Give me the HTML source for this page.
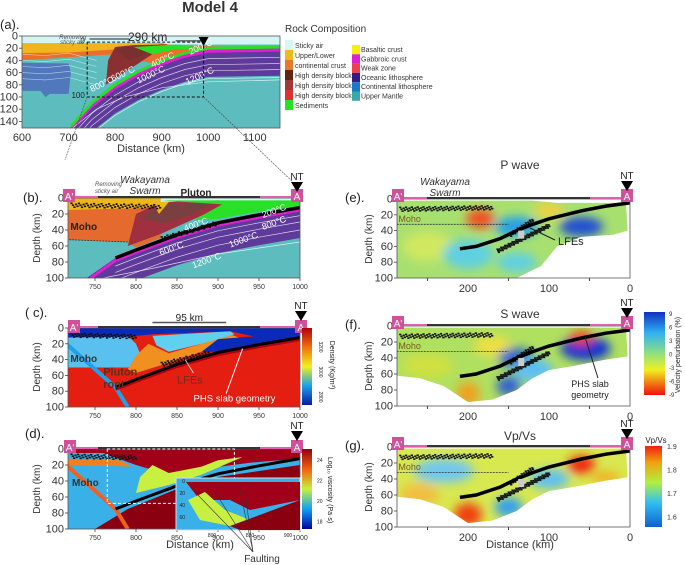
<!DOCTYPE html>
<html><head><meta charset="utf-8"><style>
html,body{margin:0;padding:0;background:#fff}
svg{display:block;font-family:"Liberation Sans",Arial,sans-serif}
</style></head><body>
<svg id="fig" xmlns="http://www.w3.org/2000/svg" width="685" height="565" viewBox="0 0 685 565">
<defs>
<filter id="blur" x="-50%" y="-50%" width="200%" height="200%"><feGaussianBlur stdDeviation="5"/></filter>
<filter id="blur2" x="-50%" y="-50%" width="200%" height="200%"><feGaussianBlur stdDeviation="2.5"/></filter>
<linearGradient id="gDen" x1="0" y1="1" x2="0" y2="0"><stop offset="0" stop-color="#0a1aa0"/><stop offset="0.25" stop-color="#1aa0e8"/><stop offset="0.5" stop-color="#f0f020"/><stop offset="0.75" stop-color="#f07010"/><stop offset="1" stop-color="#b00010"/></linearGradient>
<linearGradient id="gVis" x1="0" y1="1" x2="0" y2="0"><stop offset="0" stop-color="#0000a0"/><stop offset="0.25" stop-color="#10a0f0"/><stop offset="0.5" stop-color="#c8f040"/><stop offset="0.75" stop-color="#f06010"/><stop offset="1" stop-color="#900010"/></linearGradient>
<linearGradient id="gVel" x1="0" y1="0" x2="0" y2="1"><stop offset="0" stop-color="#1030c0"/><stop offset="0.25" stop-color="#30b0f0"/><stop offset="0.5" stop-color="#90e080"/><stop offset="0.7" stop-color="#f0f020"/><stop offset="0.85" stop-color="#f08010"/><stop offset="1" stop-color="#f01010"/></linearGradient>
<linearGradient id="gVpvs" x1="0" y1="1" x2="0" y2="0"><stop offset="0" stop-color="#1060d0"/><stop offset="0.3" stop-color="#30c0f0"/><stop offset="0.55" stop-color="#b0f040"/><stop offset="0.8" stop-color="#f0a010"/><stop offset="1" stop-color="#f02010"/></linearGradient>
</defs>
</svg>
<script>
// ---- data arrays ----
const aXTicks = [600,700,800,900,1000,1100];
const aYTicks = [0,20,40,60,80,100,120,140];
const bXTicks = [750,800,850,900,950,1000];
const bYTicks = [0,20,40,60,80,100];
const eXTicks = [200,100,0];
const slabModel = [[775,75],[800,65],[850,46],[900,31],[950,21],[1000,12]];
const slabA = [[705,150],[750,112],[800,82],[850,60],[900,43],[950,30],[1000,22],[1155,20]];
const slabTomo = [[210,63],[190,60],[160,50],[140,40],[120,32],[100,25],[60,15],[30,9],[0,5]];
const mohoTomo = [[288,32],[150,32]];
const legendLeft = [["Sticky air","#d8f6f8"],["Upper/Lower","#f2b820"],["continental crust","#e77a2a"],["High density block","#5a2a10"],["High density block","#a03838"],["High density block","#e03030"],["Sediments","#28e028"]];
const legendRight = [["Basaltic crust","#f8f000"],["Gabbroic crust","#e020d0"],["Weak zone","#f04050"],["Oceanic lithosphere","#3a1a80"],["Continental lithosphere","#1a78c8"],["Upper Mantle","#3aa8a8"]];
const densTicks = [3200,3000,2800];
const viscTicks = [24,22,20,18];
const velTicks = [9,6,3,0,-3,-6,-9];
const vpvsTicks = [1.9,1.8,1.7,1.6];

const NS="http://www.w3.org/2000/svg";
const svg=document.getElementById('fig');
function mk(tag,attrs,parent,name,inter){const e=document.createElementNS(NS,tag);for(const k in attrs)e.setAttribute(k,attrs[k]);(parent||svg).appendChild(e);


return e;}
function txt(x,y,s,attrs,parent,name){const t=mk('text',Object.assign({x:x,y:y,'font-size':9,fill:'#222'},attrs||{}),parent,name||'label');t.textContent=s;return t;}

const P={
 a:{x:d=>22+(d-600)*0.4655,y:k=>36+k*0.61,l:22,r:280,t:36,b:128},
 b:{x:d=>300-(1000-d)*0.82,y:k=>198+k*0.8,l:68,r:300,t:198,b:278},
 c:{x:d=>300-(1000-d)*0.82,y:k=>328+k*0.79,l:68,r:300,t:328,b:407},
 d:{x:d=>300-(1000-d)*0.82,y:k=>449+k*0.8,l:68,r:300,t:449,b:529},
 e:{x:d=>630-d*0.81,y:k=>199+k*0.79,l:397,r:630,t:199,b:278},
 f:{x:d=>630-d*0.81,y:k=>326+k*0.8,l:397,r:630,t:326,b:406},
 g:{x:d=>630-d*0.81,y:k=>447+k*0.8,l:397,r:630,t:447,b:527}
};
function pts(p,arr){return arr.map(q=>p.x(q[0]).toFixed(1)+','+p.y(q[1]).toFixed(1)).join(' ');}
function poly(p,arr,fill,g,name,extra){return mk('polygon',Object.assign({points:pts(p,arr),fill:fill},extra||{}),g,name);}
function line(p,arr,stroke,w,g,name,extra){return mk('polyline',Object.assign({points:pts(p,arr),fill:'none',stroke:stroke,'stroke-width':w},extra||{}),g,name);}
function offset(arr,dk){return arr.map(q=>[q[0],q[1]+dk]);}
function blob(p,d,k,rx,ry,fill,g,name){return mk('ellipse',{cx:p.x(d),cy:p.y(k),rx:rx,ry:ry,fill:fill},g,name);}
function panel(key,name){const p=P[key];const cp=mk('clipPath',{id:'clip'+key},svg.querySelector('defs'),'clip');mk('rect',{x:p.l,y:p.t,width:p.r-p.l,height:p.b-p.t},cp,'clip-rect');return mk('g',{'clip-path':'url(#clip'+key+')'},svg,name);}
function frame(p,g){mk('rect',{x:p.l,y:p.t,width:p.r-p.l,height:p.b-p.t,fill:'none',stroke:'#555','stroke-width':0.8},g,'plot-frame');}
function yAxis(p,ticks,g,fs){ticks.forEach(v=>{const y=p.y(v);mk('line',{x1:p.l-3,x2:p.l,y1:y,y2:y,stroke:'#444','stroke-width':0.8},g,'y-tick');txt(p.l-4,y+3.5,String(v),{'text-anchor':'end','font-size':fs||11,fill:'#333'},g,'y-tick-label');});}
function xAxis(p,ticks,g,fs){ticks.forEach(v=>{const x=p.x(v);mk('line',{x1:x,x2:x,y1:p.b,y2:p.b+3,stroke:'#444','stroke-width':0.8},g,'x-tick');txt(x,p.b+(fs>8?14:11),String(v),{'text-anchor':'middle','font-size':fs||7,fill:'#333'},g,'x-tick-label');});}
function ylabel(x,y,s,g){txt(x,y,s,{'font-size':10,transform:'rotate(-90 '+x+' '+y+')','text-anchor':'middle',fill:'#333'},g,'y-axis-title');}
function marker(x,y,s,g){mk('rect',{x:x-6,y:y-7,width:12,height:13,fill:'#d0509a'},g,'profile-end-marker');txt(x,y+4,s,{'font-size':10,fill:'#fff','text-anchor':'middle'},g,'profile-end-label');}
function topbar(p,g){mk('line',{x1:p.l,x2:p.r,y1:p.t-1,y2:p.t-1,stroke:'#e060b0','stroke-width':2},g,'surface-line');mk('line',{x1:p.l+30,x2:p.r-40,y1:p.t-1,y2:p.t-1,stroke:'#333','stroke-width':2},g,'surface-line-dark');}
function nt(x,y,g){txt(x,y,'NT',{'font-size':10,'text-anchor':'middle',fill:'#222'},g,'nt-label');mk('polygon',{points:(x-6)+','+(y+2)+' '+(x+6)+','+(y+2)+' '+x+','+(y+12)},g,'nt-triangle');}
function dots(p,d0,d1,k0,k1,n,g){
 for(let i=0;i<n;i++){const f=i/n;const d=d0+(d1-d0)*f;const k=k0+(k1-k0)*f+((i*7)%5-2)*1.2;mk('rect',{x:p.x(d),y:p.y(k),width:2.2,height:1.6,fill:'#111'},g,'seismicity-dot');}}

txt(210,12,'Model 4',{'font-size':15,'font-weight':'bold','text-anchor':'middle',fill:'#333'},svg,'figure-title');
txt(0,29,'(a).',{'font-size':13,fill:'#222'},svg,'panel-a-label');

// ================= Panel (a) =================
(function(){const p=P.a;const g=panel('a','panel-a-model');
 mk('rect',{x:p.l,y:p.t,width:p.r-p.l,height:p.b-p.t,fill:'#5cbcbe'},g,'upper-mantle');
 mk('rect',{x:p.l,y:p.t,width:p.r-p.l,height:p.y(14)-p.t,fill:'#d4f4f6'},g,'sticky-air');
 poly(p,[[600,12],[900,12],[930,16],[1155,18],[1155,65],[1000,62],[950,55],[900,48],[850,40],[800,30],[700,35],[600,40]],'#e8702a',g,'continental-crust-lower');
 poly(p,[[600,12],[900,12],[880,18],[800,22],[700,27],[600,28]],'#f0b41c',g,'continental-crust-upper');
 poly(p,[[600,44],[700,45],[705,60],[700,95],[660,95],[650,100],[640,90],[600,90]],'#5078ba',g,'continental-lithosphere');
 const top=slabA, bot=offset(slabA,45).map(q=>q[0]>1000?[q[0],65]:q);
 poly(p,top.concat(bot.slice().reverse()),'#5e3a9a',g,'oceanic-lithosphere');
 line(p,offset(slabA,3),'#e020d0',3,g,'gabbroic-crust');
 line(p,offset(slabA,-2),'#28e028',3,g,'sediments');
 poly(p,[[780,80],[785,40],[800,18],[840,15],[910,14],[920,18],[880,30],[830,55]],'#8a3030',g,'high-density-block');
 poly(p,[[800,22],[840,16],[900,15],[870,28],[830,40]],'#7a3030',g,'high-density-block-2');
 poly(p,[[840,18],[930,14],[1000,20],[930,22],[880,30]],'#28e028',g,'sediment-wedge');
 [15,25,35,48].forEach(o=>line(p,offset(slabA,o),'rgba(255,255,255,0.75)',0.7,g,'isotherm'));
 line(p,[[710,150],[760,120],[820,100],[900,85],[1000,75],[1155,72]],'rgba(255,255,255,0.75)',0.7,g,'isotherm-1200');
 [20,30,40,50,60].forEach(k=>line(p,[[600,k+10],[650,k+12],[700,k+8],[760,k+20]],'rgba(255,255,255,0.6)',0.6,g,'isotherm-crust'));
 const lab=[['200°C',962,31],['400°C',880,52],['600°C',795,75],['800°C',750,92],['1000°C',850,78],['1200°C',955,80]];
 lab.forEach(l=>txt(p.x(l[1]),p.y(l[2]),l[0],{'font-size':9,fill:'#fff',transform:'rotate(-25 '+p.x(l[1])+' '+p.y(l[2])+')'},g,'isotherm-label'));
 mk('rect',{x:p.x(740),y:p.y(10),width:p.x(990)-p.x(740),height:p.y(100)-p.y(10),fill:'none',stroke:'#111','stroke-dasharray':'3,2','stroke-width':1},svg,'zoom-box');
 txt(p.x(735),p.y(12),'0',{'font-size':8,'text-anchor':'end'},svg,'box-label-0');
 txt(p.x(735),p.y(102),'100',{'font-size':8,'text-anchor':'end'},svg,'box-label-100');
 mk('line',{x1:p.x(745),x2:p.x(830),y1:p.y(5),y2:p.y(5),stroke:'#222'},svg,'distance-arrow-left');
 mk('line',{x1:p.x(930),x2:p.x(990),y1:p.y(8),y2:p.y(8),stroke:'#222'},svg,'distance-arrow-right');
 txt(p.x(870),p.y(8),'290 km',{'font-size':12,'text-anchor':'middle'},svg,'distance-290km');
 txt(p.x(680),p.y(5),'Removing',{'font-size':6,'font-style':'italic',fill:'#555'},svg,'removing-label');
 txt(p.x(682),p.y(13),'sticky air',{'font-size':6,'font-style':'italic',fill:'#555'},svg,'sticky-air-label');
 mk('polygon',{points:(p.x(990)-5)+','+(p.y(0)+1)+' '+(p.x(990)+5)+','+(p.y(0)+1)+' '+p.x(990)+','+(p.y(0)+10)},svg,'nt-triangle');
 frame(p,svg);yAxis(p,aYTicks,svg,11);
 aXTicks.forEach(v=>txt(p.x(v),p.b+13,String(v),{'font-size':11,'text-anchor':'middle',fill:'#333'},svg,'x-tick-label'));
 txt(151,152,'Distance (km)',{'font-size':11,'text-anchor':'middle',fill:'#333'},svg,'x-axis-title');
 mk('line',{x1:p.x(740),y1:p.y(100),x2:65,y2:160,stroke:'#444','stroke-width':0.6,'stroke-dasharray':'2,1'},svg,'zoom-connector-left');
 mk('line',{x1:p.x(990),y1:p.y(100),x2:296,y2:185,stroke:'#444','stroke-width':0.6,'stroke-dasharray':'2,1'},svg,'zoom-connector-right');
})();
(function(){const g=mk('g',{},svg,'rock-composition-legend');
 txt(285,32,'Rock Composition',{'font-size':10,fill:'#333'},g,'legend-title');
 legendLeft.forEach((l,i)=>{const y=40+i*10;mk('rect',{x:285,y:y,width:8,height:10,fill:l[1]},g,'legend-swatch');txt(295,y+8,l[0],{'font-size':7,fill:'#333'},g,'legend-entry');});
 legendRight.forEach((l,i)=>{const y=45+i*9.3;mk('rect',{x:352,y:y,width:8,height:9.3,fill:l[1]},g,'legend-swatch');txt(361,y+7,l[0],{'font-size':7,fill:'#333'},g,'legend-entry');});
})();

// ================= Panel (b) =================
(function(){const p=P.b;const g=panel('b','panel-b-model-zoom');
 mk('rect',{x:p.l,y:p.t,width:p.r-p.l,height:p.b-p.t,fill:'#5cbcbe'},g,'mantle');
 poly(p,[[715,0],[1000,0],[1000,8],[715,8]],'#d4f4f6',g,'sticky-air');
 poly(p,[[715,0],[830,0],[830,50],[800,62],[790,55],[715,52]],'#e56a2e',g,'lower-crust');
 poly(p,[[715,0],[830,0],[830,12],[715,15]],'#f0b41c',g,'upper-crust');
 const bot=slabModel.map(q=>[q[0],q[1]+38]);
 poly(p,[[740,100]].concat(slabModel,[[1000,45]],[[1000,60]],bot.slice().reverse(),[[760,100]]),'#5e3a9a',g,'oceanic-lithosphere');
 line(p,[[745,100]].concat(offset(slabModel,3)),'#e020d0',3,g,'gabbroic-crust');
 poly(p,[[790,60],[800,20],[830,5],[900,3],[920,5],[880,22],[830,45]],'#a03040',g,'high-density-block');
 poly(p,[[805,25],[830,8],[900,4],[870,20],[835,32]],'#7a4040',g,'high-density-block-2');
 poly(p,[[830,3],[1000,3],[1000,10],[950,17],[900,26],[870,28],[905,8]],'#28e028',g,'sediments');
 poly(p,[[820,5],[840,5],[828,20]],'#f0b41c',g,'upper-crust-wedge');
 [10,18,28].forEach(o=>line(p,offset(slabModel,o),'rgba(255,255,255,0.8)',0.7,g,'isotherm'));
 line(p,[[760,100],[820,88],[900,70],[1000,55]],'rgba(255,255,255,0.8)',0.7,g,'isotherm-1200');
 line(p,slabModel,'#000',3.5,g,'slab-geometry');
 dots(p,720,830,8,10,60,g);dots(p,830,900,50,30,50,g);
 line(p,[[715,52],[790,55]],'#333',0.8,g,'moho-line',{'stroke-dasharray':'2,1'});
 [['200°C',955,25],['400°C',860,42],['600°C',830,72],['800°C',955,40],['1000°C',915,62],['1200°C',870,88]].forEach(l=>txt(p.x(l[1]),p.y(l[2]),l[0],{'font-size':9,fill:'#fff',transform:'rotate(-20 '+p.x(l[1])+' '+p.y(l[2])+')'},g,'isotherm-label'));
 txt(p.x(720),p.y(40),'Moho',{'font-size':10,'font-weight':'bold',fill:'#222'},g,'moho-label');
 frame(p,svg);topbar(p,svg);yAxis(p,bYTicks,svg,11);xAxis(p,bXTicks,svg,7);
 ylabel(40,238,'Depth (km)',svg);
 txt(23,202,'(b).',{'font-size':13,fill:'#222'},svg,'panel-b-label');
 marker(69,196,'A\'',svg);marker(297,196,'A',svg);nt(297,180,svg);
 txt(95,186,'Removing',{'font-size':6,'font-style':'italic',fill:'#555'},svg,'removing-label');
 txt(95,193,'sticky air',{'font-size':6,'font-style':'italic',fill:'#555'},svg,'sticky-air-label');
 txt(145,183,'Wakayama',{'font-size':10,'font-style':'italic','text-anchor':'middle',fill:'#333'},svg,'wakayama-label');
 txt(145,194,'Swarm',{'font-size':10,'font-style':'italic','text-anchor':'middle',fill:'#333'},svg,'swarm-label');
 txt(196,196,'Pluton',{'font-size':10,'font-weight':'bold','text-anchor':'middle',fill:'#222'},svg,'pluton-label');
})();

// ================= Panel (c) density =================
(function(){const p=P.c;const g=panel('c','panel-c-density');
 mk('rect',{x:p.l,y:p.t,width:p.r-p.l,height:p.b-p.t,fill:'#e41e10'},g,'mantle-density');
 poly(p,[[715,10],[790,10],[800,20],[810,45],[790,50],[715,50]],'#5ac0f0',g,'lower-crust-density');
 poly(p,[[790,52],[800,35],[815,20],[840,32],[880,20],[915,8],[925,12],[880,30],[840,44],[800,57]],'#f09020',g,'pluton-root');
 poly(p,[[820,10],[915,4],[920,8],[880,20],[840,30],[825,22]],'#60d0f0',g,'pluton-body');
 poly(p,[[715,0],[1000,0],[1000,10],[950,12],[915,4],[820,8],[790,11],[715,12]],'#0a2ab8',g,'upper-crust-density');
 poly(p,[[900,14],[950,10],[1000,8],[1000,11],[950,20],[900,30],[880,30]],'#0a2ab8',g,'wedge-density');
 line(p,[[715,20],[775,75],[790,100]],'#20a0e8',4,g,'slab-edge');
 line(p,offset(slabModel,2),'#b00010',4,g,'slab-dark');
 line(p,slabModel,'#000',3,g,'slab-geometry');
 dots(p,720,800,8,10,50,g);dots(p,830,890,45,30,40,g);
 txt(p.x(720),p.y(43),'Moho',{'font-size':10,'font-weight':'bold',fill:'#333'},g,'moho-label');
 txt(p.x(760),p.y(60),'Pluton',{'font-size':11,'font-weight':'bold',fill:'#5a3020'},g,'pluton-label');
 txt(p.x(760),p.y(76),'root',{'font-size':11,'font-weight':'bold',fill:'#5a3020'},g,'root-label');
 txt(p.x(850),p.y(70),'LFEs',{'font-size':11,fill:'#7a2a20'},g,'lfes-label');
 txt(p.x(970),p.y(93),'PHS slab geometry',{'font-size':9.5,fill:'#fff','text-anchor':'end'},g,'phs-slab-label');
 mk('line',{x1:p.x(870),y1:p.y(57),x2:p.x(860),y2:p.y(40),stroke:'#ccc'},g,'lfes-pointer');
 mk('line',{x1:p.x(910),y1:p.y(83),x2:p.x(930),y2:p.y(26),stroke:'#fff'},g,'slab-pointer');
 frame(p,svg);topbar(p,svg);yAxis(p,bYTicks,svg,11);xAxis(p,bXTicks,svg,7);
 ylabel(40,367,'Depth (km)',svg);
 txt(25,317,'( c).',{'font-size':13,fill:'#222'},svg,'panel-c-label');
 marker(74,327,'A\'',svg);marker(301,327,'A',svg);nt(301,309,svg);
 mk('line',{x1:p.x(820),x2:p.x(910),y1:p.y(-7),y2:p.y(-7),stroke:'#555','stroke-width':1.5},svg,'dimension-95km');
 txt(p.x(865),p.y(-9),'95 km',{'font-size':10,'text-anchor':'middle'},svg,'dimension-label');
 mk('rect',{x:302,y:328,width:10,height:77,fill:'url(#gDen)'},svg,'density-colorbar');
 densTicks.forEach((v,i)=>txt(322,350+i*25,String(v),{'font-size':5,'text-anchor':'middle',transform:'rotate(90 322 '+(347+i*25)+')'},svg,'colorbar-tick'));
 txt(330,365,'Density (Kg/m³)',{'font-size':7,'text-anchor':'middle',transform:'rotate(90 330 365)'},svg,'density-colorbar-title');
})();

// ================= Panel (d) viscosity =================
(function(){const p=P.d;const g=panel('d','panel-d-viscosity');
 mk('rect',{x:p.l,y:p.t,width:p.r-p.l,height:p.b-p.t,fill:'#3ab0e8'},g,'viscosity-background');
 poly(p,[[750,100],[790,75],[850,50],[900,35],[1000,20],[1000,100]],'#8a0010',g,'slab-mantle-high-viscosity');
 poly(p,[[715,0],[1000,0],[1000,12],[940,17],[880,25],[840,32],[800,20],[760,5],[715,5]],'#a00018',g,'crust-high-viscosity');
 poly(p,[[715,12],[780,14],[795,22],[715,20]],'#f08020',g,'crust-mid');
 poly(p,[[800,55],[805,35],[820,20],[840,30],[880,22],[900,14],[930,10],[880,32],[840,45]],'#c8f040',g,'pluton-viscosity');
 line(p,[[715,20],[775,75],[790,100]],'#f06020',4,g,'slab-margin');
 line(p,slabModel,'#000',3,g,'slab-geometry');
 dots(p,720,800,8,10,50,g);
 txt(p.x(722),p.y(46),'Moho',{'font-size':10,'font-weight':'bold',fill:'#333'},g,'moho-label');
 frame(p,svg);topbar(p,svg);yAxis(p,bYTicks,svg,11);xAxis(p,bXTicks,svg,7);
 mk('rect',{x:p.x(765),y:p.y(0),width:p.x(920)-p.x(765),height:p.y(68)-p.y(0),fill:'none',stroke:'#fff','stroke-dasharray':'3,2','stroke-width':1},svg,'inset-source-box');
 const ig=mk('g',{},svg,'viscosity-inset');
 mk('rect',{x:176,y:478,width:124,height:52,fill:'#3ab0e8',stroke:'#ddd'},ig,'inset-frame');
 mk('polygon',{points:'186,482 300,482 300,500 250,510 230,500 200,500',fill:'#a00018'},ig,'inset-high');
 mk('polygon',{points:'188,500 205,492 225,510 250,520 230,526 200,520',fill:'#c8f040'},ig,'inset-pluton');
 mk('polygon',{points:'230,526 300,500 300,530 240,530',fill:'#8a0010'},ig,'inset-slab');
 ['0','20','40','60'].forEach((s,i)=>txt(185,483+i*12,s,{'font-size':5,'text-anchor':'end'},ig,'inset-y-tick'));
 ['800','850','900'].forEach((s,i)=>txt(212+i*38,537,s,{'font-size':5,'text-anchor':'middle'},ig,'inset-x-tick'));
 ylabel(40,489,'Depth (km)',svg);
 txt(25,438,'(d).',{'font-size':13,fill:'#222'},svg,'panel-d-label');
 marker(70,447,'A\'',svg);marker(297,447,'A',svg);nt(297,429,svg);
 txt(200,548,'Distance (km)',{'font-size':11,'text-anchor':'middle',fill:'#333'},svg,'x-axis-title');
 txt(262,562,'Faulting',{'font-size':10,'text-anchor':'middle',fill:'#333'},svg,'faulting-label');
 [[195,492],[215,492],[240,490],[245,492]].forEach(q=>mk('line',{x1:253,y1:552,x2:q[0],y2:q[1],stroke:'#333','stroke-width':0.6},svg,'faulting-pointer'));
 mk('rect',{x:302,y:449,width:10,height:80,fill:'url(#gVis)'},svg,'viscosity-colorbar');
 viscTicks.forEach((v,i)=>txt(317,462+i*20.5,String(v),{'font-size':5},svg,'colorbar-tick'));
 txt(328,490,'Log₁₀ viscosity (Pa·s)',{'font-size':7,'text-anchor':'middle',transform:'rotate(90 328 490)'},svg,'viscosity-colorbar-title');
})();

// ================= Tomography panels =================
function tomo(key,name,cov,base,blobs,title,ty,label){const p=P[key];const g=panel(key,name);
 const cg=mk('clipPath',{id:'cov'+key},svg.querySelector('defs'),'coverage-clip');mk('polygon',{points:pts(p,cov)},cg,'coverage-shape');
 const inner=mk('g',{'clip-path':'url(#cov'+key+')'},g,'tomography-field');
 mk('rect',{x:p.l,y:p.t,width:p.r-p.l,height:p.b-p.t,fill:base},inner,'background-field');
 const bg=mk('g',{filter:'url(#blur)'},inner,'anomaly-blobs');
 blobs.forEach(b=>blob(p,b[0],b[1],b[2],b[3],b[4],bg,'velocity-anomaly'));
 line(p,mohoTomo,'#333',0.8,g,'moho-line',{'stroke-dasharray':'2,1'});
 txt(p.x(286),p.y(29),'Moho',{'font-size':9,fill:'#7a5a20'},g,'moho-label');
 dots(p,285,170,12,10,80,g);dots(p,165,100,65,32,70,g);dots(p,150,120,45,25,30,g);
 line(p,slabTomo,'#000',3.5,g,'slab-geometry');
 mk('rect',{x:p.x(138),y:p.y(40),width:6,height:8,fill:'#ccc'},g,'lfe-cluster');
 frame(p,svg);topbar(p,svg);yAxis(p,bYTicks,svg,11);
 eXTicks.forEach(v=>txt(p.x(v),p.b+14,String(v),{'font-size':11,'text-anchor':'middle',fill:'#333'},svg,'x-tick-label'));
 [250,150,50].forEach(v=>mk('line',{x1:p.x(v),x2:p.x(v),y1:p.b,y2:p.b+3,stroke:'#444'},svg,'x-minor-tick'));
 ylabel(372,p.t+40,'Depth (km)',svg);
 txt(345,p.t+3,label,{'font-size':13,fill:'#222'},svg,'panel-'+key+'-label');
 txt(520,ty,title,{'font-size':12,'text-anchor':'middle',fill:'#333'},svg,'panel-'+key+'-title');
 marker(398,p.t-3,'A\'',svg);marker(627,p.t-3,'A',svg);nt(627,p.t-20,svg);
 return g;}

const covE=[[290,2],[120,2],[90,5],[5,5],[3,40],[20,45],[60,48],[90,60],[110,85],[140,100],[290,100]];
const covF=[[290,2],[5,2],[3,38],[30,42],[70,50],[100,55],[120,65],[140,80],[170,92],[200,95],[230,75],[260,65],[290,62]];
tomo('e','panel-e-p-wave',covE,'#a8e070',[[185,25,14,10,'#f05020'],[60,35,22,10,'#2050d0'],[140,35,22,10,'#20a0e8'],[250,60,25,15,'#d0e860'],[200,70,25,15,'#60d0e0'],[140,80,20,10,'#60d0e0'],[100,15,15,8,'#f0d040']],'P wave',169,'(e).');
txt(445,185,'Wakayama',{'font-size':10,'font-style':'italic','text-anchor':'middle',fill:'#333'},svg,'wakayama-label');
txt(445,196,'Swarm',{'font-size':10,'font-style':'italic','text-anchor':'middle',fill:'#333'},svg,'swarm-label');
txt(558,245,'LFEs',{'font-size':11,fill:'#222'},svg,'lfes-label');
mk('line',{x1:555,y1:240,x2:530,y2:228,stroke:'#222'},svg,'lfes-pointer');
tomo('f','panel-f-s-wave',covF,'#b0e060',[[170,25,18,10,'#f0e040'],[55,28,25,12,'#1030d0'],[140,40,18,10,'#2060d0'],[60,15,12,7,'#f04010'],[200,85,12,12,'#f0a020'],[150,75,12,10,'#3060d0'],[250,50,25,12,'#d0e040'],[120,55,20,12,'#60c0f0']],'S wave',318,'(f).');
txt(590,387,'PHS slab',{'font-size':9,'text-anchor':'middle',fill:'#222'},svg,'phs-slab-label');
txt(590,398,'geometry',{'font-size':9,'text-anchor':'middle',fill:'#222'},svg,'geometry-label');
mk('line',{x1:598,y1:378,x2:585,y2:337,stroke:'#222'},svg,'slab-pointer');
tomo('g','panel-g-vp-vs',covF,'#d8e850',[[60,22,14,9,'#f02010'],[200,85,14,12,'#f04010'],[150,75,14,10,'#30a0f0'],[230,30,30,12,'#70c8f0'],[100,40,20,10,'#60c0f0'],[260,60,20,12,'#f0c040'],[30,38,15,6,'#f0b020']],'Vp/Vs',440,'(g).');
txt(520,548,'Distance (km)',{'font-size':11,'text-anchor':'middle',fill:'#333'},svg,'x-axis-title');
mk('rect',{x:644,y:312,width:21,height:83,fill:'url(#gVel)'},svg,'velocity-colorbar');
velTicks.forEach((v,i)=>txt(669,316+i*13.5,String(v),{'font-size':6,fill:'#333'},svg,'colorbar-tick'));
txt(680,355,'Velocity perturbation (%)',{'font-size':7,'text-anchor':'middle',transform:'rotate(-90 680 355)'},svg,'velocity-colorbar-title');
txt(656,443,'Vp/Vs',{'font-size':8,'text-anchor':'middle'},svg,'vpvs-colorbar-title');
mk('rect',{x:645,y:446,width:17,height:81,fill:'url(#gVpvs)'},svg,'vpvs-colorbar');
vpvsTicks.forEach((v,i)=>txt(667,449+i*23.5,v.toFixed(1),{'font-size':7,fill:'#333'},svg,'colorbar-tick'));
</script>
</body></html>
